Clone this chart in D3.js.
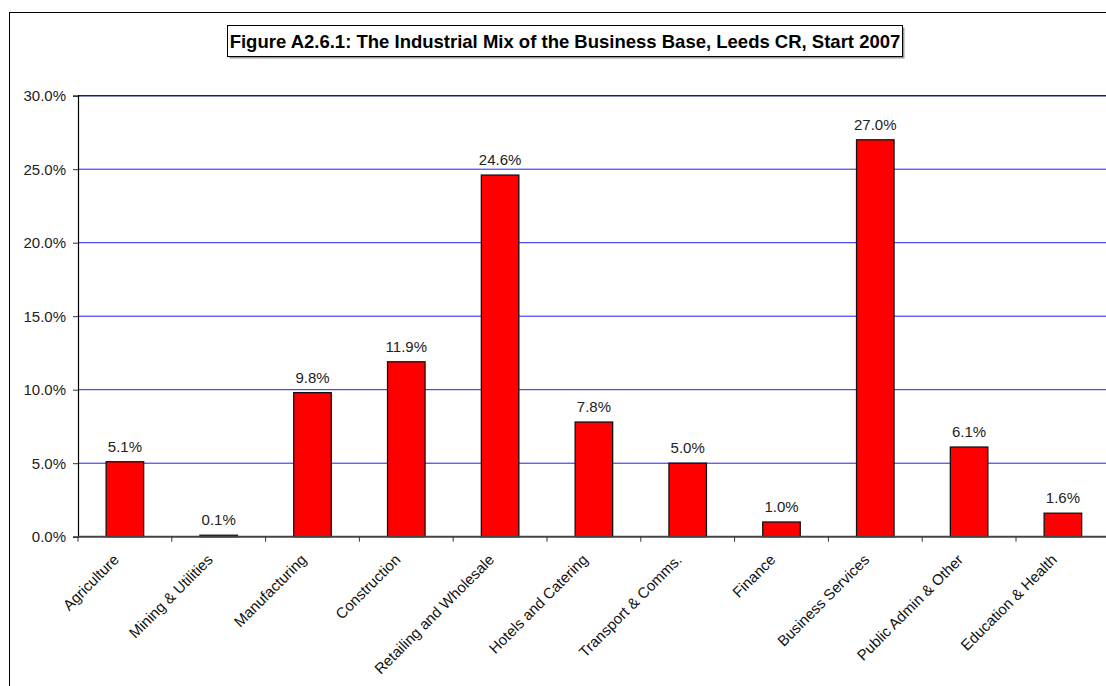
<!DOCTYPE html>
<html>
<head>
    <meta charset="utf-8">
    <style>
        html, body { padding: 0; margin: 0; background: #fff; }
        svg { display: block; }
        text { font-family: 'Liberation Sans', Arial, sans-serif; }
    </style>
</head>
<body>
    <div id="chart"></div>
    <script src="https://cdn.jsdelivr.net/npm/d3@7"></script>
    <script>
        // Data
        const categories = ['Agriculture', 'Mining & Utilities', 'Manufacturing', 'Construction',
            'Retailing and Wholesale', 'Hotels and Catering', 'Transport & Comms.', 'Finance',
            'Business Services', 'Public Admin & Other', 'Education & Health'];
        const shares = [5.1, 0.1, 9.8, 11.9, 24.6, 7.8, 5.0, 1.0, 27.0, 6.1, 1.6];
        const yTicks = [0, 5, 10, 15, 20, 25, 30];
        const title = 'Figure A2.6.1: The Industrial Mix of the Business Base, Leeds CR, Start 2007';

        const width = 1106, height = 686;
        const plotLeft = 78, plotTop = 95.7, plotBottom = 536.7;
        const plotW = 93.8 * categories.length;

        const svg = d3.select('#chart').append('svg')
            .attr('width', width)
            .attr('height', height);

        // outer frame (runs off right / bottom)
        svg.append('rect')
            .attr('x', 9.5).attr('y', 12.5)
            .attr('width', 1200).attr('height', 800)
            .attr('fill', 'none').attr('stroke', '#000');

        const x = d3.scaleBand()
            .domain(categories)
            .range([plotLeft, plotLeft + plotW])
            .paddingInner(0.6)
            .paddingOuter(0.3);
        const step = x.step();

        const y = d3.scaleLinear().domain([0, 30]).range([plotBottom, plotTop]);

        // gridlines
        svg.append('g')
            .selectAll('line')
            .data(yTicks.filter(d => d > 0))
            .join('line')
            .attr('x1', plotLeft).attr('x2', plotLeft + plotW)
            .attr('y1', d => y(d)).attr('y2', d => y(d))
            .attr('stroke', d => d === 30 ? '#1a1a80' : '#1f1ff0')
            .attr('stroke-width', d => d === 30 ? 1.5 : 1);

        // bars
        svg.append('g')
            .selectAll('rect')
            .data(shares)
            .join('rect')
            .attr('x', (d, i) => x(categories[i]))
            .attr('y', d => y(d))
            .attr('width', x.bandwidth())
            .attr('height', d => y(0) - y(d))
            .attr('fill', '#ff0000')
            .attr('stroke', '#111')
            .attr('stroke-width', 1.3);

        // value labels
        svg.append('g')
            .selectAll('text')
            .data(shares)
            .join('text')
            .attr('x', (d, i) => x(categories[i]) + x.bandwidth() / 2)
            .attr('y', d => y(d) - 10)
            .attr('text-anchor', 'middle')
            .style('font-size', '15px')
            .attr('fill', '#222')
            .text(d => d.toFixed(1) + '%');

        // y axis
        const yAxis = d3.axisLeft(y)
            .tickValues(yTicks)
            .tickSize(5)
            .tickFormat(d => d.toFixed(1) + '%');
        const ya = svg.append('g')
            .attr('transform', `translate(${plotLeft},0)`)
            .call(yAxis);
        ya.select('.domain').attr('stroke', '#000').attr('stroke-width', 1.2);
        ya.selectAll('.tick line').attr('stroke', '#333');
        ya.selectAll('.tick text')
            .attr('x', -12)
            .style('font-size', '15px')
            .style('font-family', "'Liberation Sans', Arial, sans-serif")
            .attr('fill', '#222');

        // x axis line and boundary ticks
        svg.append('line')
            .attr('x1', plotLeft).attr('x2', plotLeft + plotW)
            .attr('y1', plotBottom).attr('y2', plotBottom)
            .attr('stroke', '#444').attr('stroke-width', 2);
        svg.append('g')
            .selectAll('line')
            .data(d3.range(categories.length + 1))
            .join('line')
            .attr('x1', i => plotLeft + i * step).attr('x2', i => plotLeft + i * step)
            .attr('y1', plotBottom).attr('y2', plotBottom + 5)
            .attr('stroke', '#333');

        // category labels, rotated
        svg.append('g')
            .selectAll('text')
            .data(categories)
            .join('text')
            .attr('transform', d => `translate(${x(d) + x.bandwidth() / 2 - 5},${plotBottom + 24}) rotate(-45)`)
            .attr('text-anchor', 'end')
            .style('font-size', '15px')
            .attr('fill', '#111')
            .text(d => d);

        // title box with a light shadow
        const tg = svg.append('g');
        tg.append('rect')
            .attr('x', 229.5).attr('y', 27.5)
            .attr('width', 675).attr('height', 31)
            .attr('fill', '#999');
        tg.append('rect')
            .attr('x', 227.5).attr('y', 25.5)
            .attr('width', 675).attr('height', 31)
            .attr('fill', '#fff').attr('stroke', '#000');
        tg.append('text')
            .attr('x', 565).attr('y', 47.5)
            .attr('text-anchor', 'middle')
            .style('font-size', '18.5px')
            .style('font-weight', 'bold')
            .attr('fill', '#000')
            .text(title);
    </script>
</body>
</html>
